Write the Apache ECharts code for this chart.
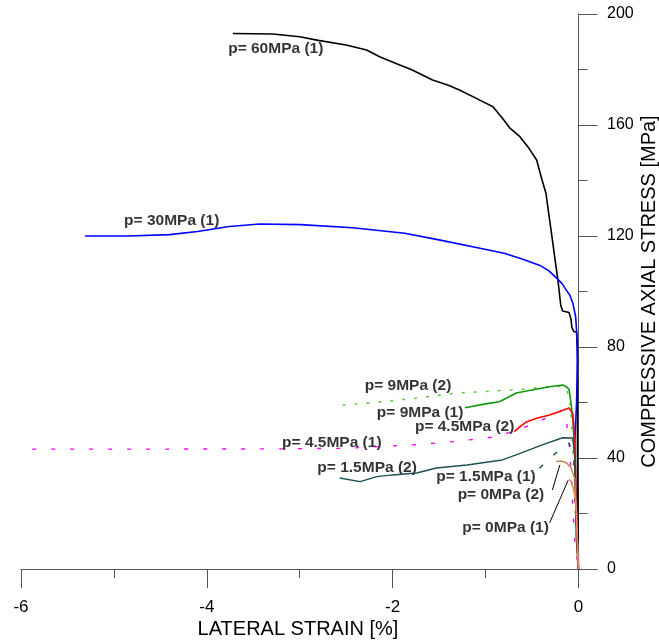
<!DOCTYPE html>
<html>
<head>
<meta charset="utf-8">
<script src="https://cdn.jsdelivr.net/npm/echarts@6/dist/echarts.min.js"></script>
<style>
  html, body { margin: 0; padding: 0; background: #fff; }
  #chart { width: 659px; height: 642px; }
</style>
</head>
<body>
<div id="chart"></div>
<script>
// lateral strain [%], axial stress [MPa]
var p60_1 = [[-3.72,193],[-3.29,192.8],[-3.0,191.8],[-2.8,190.5],[-2.5,188.8],[-2.28,187],[-2.14,184.6],[-1.95,182],[-1.8,180],[-1.57,176.2],[-1.4,174.3],[-1.28,172.6],[-1.04,168.6],[-0.92,166.6],[-0.82,162.5],[-0.74,159],[-0.63,155.8],[-0.53,151.5],[-0.45,147.4],[-0.39,140],[-0.35,135.5],[-0.31,125.8],[-0.28,118.6],[-0.25,111],[-0.22,104],[-0.19,95],[-0.17,93],[-0.1,92.4],[-0.08,90],[-0.07,87],[-0.05,85.6],[-0.02,85.4],[-0.01,80],[-0.01,40],[0,0]];
var p30_1 = [[-5.31,120],[-4.84,120],[-4.4,120.5],[-4.1,121.6],[-3.76,123.4],[-3.43,124.3],[-2.99,124.1],[-2.43,123],[-1.87,121],[-1.5,118.6],[-1.02,115.3],[-0.8,113.8],[-0.63,112],[-0.42,109.5],[-0.32,107.5],[-0.24,105],[-0.18,103],[-0.13,100.5],[-0.09,98.5],[-0.06,95.8],[-0.03,91],[-0.02,86],[-0.01,75],[-0.02,60],[-0.04,45],[-0.03,30],[-0.01,10],[0,0]];
var p9_2 = [[-2.54,59],[-2.1,60.3],[-1.74,61.6],[-1.31,63.4],[-1.03,63.9],[-0.6,64.8],[-0.24,66],[-0.13,65.2],[-0.09,60],[-0.07,50],[-0.05,35],[-0.03,15],[0,0]];
var p9_1 = [[-1.22,58.1],[-1.0,59.5],[-0.85,60.3],[-0.67,63.4],[-0.5,64.5],[-0.31,65.7],[-0.17,66.3],[-0.12,65.5],[-0.1,64.5],[-0.08,60],[-0.06,53.7],[-0.04,41.8],[-0.03,25],[-0.02,10],[0,0]];
var p45_1 = [[-5.88,43.2],[-4.5,43.2],[-3.2,43.3],[-2.5,43.5],[-1.74,44.8],[-1.31,46],[-0.88,47.7],[-0.56,51.3],[-0.31,54.9],[-0.17,57.3],[-0.13,53.7],[-0.1,45],[-0.08,35],[-0.06,22],[-0.04,10],[0,0]];
var p45_2 = [[-0.69,49.5],[-0.62,51.5],[-0.56,53],[-0.45,54.3],[-0.31,55.5],[-0.2,56.8],[-0.1,58],[-0.06,56],[-0.04,48],[-0.03,35],[-0.02,20],[-0.01,8],[0,0]];
var p15_2 = [[-2.57,32.8],[-2.35,31.5],[-2.17,33.3],[-2.0,33.9],[-1.74,34.6],[-1.53,36.4],[-1.2,37.5],[-0.82,39.3],[-0.67,41.1],[-0.39,44.7],[-0.17,47.3],[-0.06,47.2],[-0.04,40],[-0.03,25],[-0.02,10],[0,0]];
var p15_1 = [[-0.42,36.3],[-0.24,41.9],[-0.1,45.4],[-0.05,40],[-0.03,20],[0,0]];
var p0_2 = [[-0.24,38.7],[-0.18,38.9],[-0.13,38.3],[-0.08,36.5],[-0.06,34.6],[-0.04,32.8],[-0.02,20],[-0.01,8],[0,0]];
var p0_1 = [[-0.1,32.5],[-0.07,31],[-0.03,25],[-0.01,10],[0,0]];

// leader lines for the two 0MPa labels
var lead0_2 = [[-0.28,28.5],[-0.2,37.5]];
var lead0_1 = [[-0.31,16.6],[-0.11,32]];

// curve labels: text, strain at left edge, stress
var curveLabels = [
  ['p= 60MPa (1)', -3.77, 187.4],
  ['p= 30MPa (1)', -4.89, 125.4],
  ['p= 9MPa (2)', -2.30, 65.9],
  ['p= 9MPa (1)', -2.17, 56.2],
  ['p= 4.5MPa (2)', -1.76, 51.2],
  ['p= 4.5MPa (1)', -3.19, 45.4],
  ['p= 1.5MPa (2)', -2.81, 36.4],
  ['p= 1.5MPa (1)', -1.53, 33.2],
  ['p= 0MPa (2)', -1.30, 26.7],
  ['p= 0MPa (1)', -1.25, 14.8]
];

var xRange = [-6, 0.2];
var xMajor = [-6, -4, -2, 0];
var xMinor = [-5, -3, -1];
var yTicks = [0, 200, 40];

var chart = echarts.init(document.getElementById('chart'));

function curve(data, color, width, type) {
  return {
    type: 'line',
    data: data,
    showSymbol: false,
    symbol: 'none',
    silent: true,
    lineStyle: { color: color, width: width, type: type || 'solid' }
  };
}

var axisColor = '#555';
var font = 'Liberation Sans, Arial, sans-serif';

var option = {
  animation: false,
  backgroundColor: '#fff',
  grid: { left: 21, right: 62, top: 14, bottom: 73, outerBoundsMode: 'none', containLabel: false },
  xAxis: [{
    type: 'value',
    min: xRange[0], max: xRange[1],
    name: 'LATERAL STRAIN [%]',
    nameLocation: 'middle',
    nameGap: 50,
    nameMoveOverlap: false,
    nameTextStyle: { fontFamily: font, fontSize: 20, color: '#000', padding: [0, 22, 0, 0] },
    axisLine: { onZero: false, lineStyle: { color: axisColor, width: 1 } },
    axisTick: { show: true, length: 19, customValues: xMajor, lineStyle: { color: axisColor } },
    splitLine: { show: false },
    axisLabel: { margin: 30, fontFamily: font, fontSize: 17, color: '#000', customValues: xMajor }
  }, {
    type: 'value',
    position: 'bottom',
    min: xRange[0], max: xRange[1],
    axisLine: { show: false, onZero: false },
    axisTick: { show: true, length: 9, customValues: xMinor, lineStyle: { color: axisColor } },
    axisLabel: { show: false },
    splitLine: { show: false }
  }],
  yAxis: {
    type: 'value',
    position: 'right',
    min: yTicks[0], max: yTicks[1], interval: yTicks[2],
    name: 'COMPRESSIVE AXIAL STRESS [MPa]',
    nameLocation: 'middle',
    nameRotate: 90,
    nameGap: 42,
    nameMoveOverlap: false,
    nameTextStyle: { fontFamily: font, fontSize: 20, color: '#000' },
    axisLine: { show: true, onZero: true, lineStyle: { color: axisColor, width: 1 } },
    axisTick: { show: true, length: 19, lineStyle: { color: axisColor } },
    minorTick: { show: true, splitNumber: 2, length: 9, lineStyle: { color: axisColor } },
    splitLine: { show: false },
    minorSplitLine: { show: false },
    axisLabel: { margin: 10, fontFamily: font, fontSize: 16, color: '#000' }
  },
  series: [
    curve(p60_1, '#000000', 1.6),
    curve(p30_1, '#0000ff', 1.6),
    curve(p9_2, '#66cc44', 1.6, [3, 9]),
    curve(p9_1, '#129a12', 1.6),
    curve(p45_1, '#ff00ff', 1.4, [4, 15]),
    curve(p45_2, '#ff0000', 1.6),
    curve(p15_2, '#1f4f4f', 1.4),
    curve(p15_1, '#1f4f4f', 1.4, [5, 14]),
    curve(p0_2, '#c8844a', 1.4),
    curve(p0_1, '#ff8060', 1.4),
    curve(lead0_2, '#000000', 1),
    curve(lead0_1, '#000000', 1),
    {
      type: 'scatter',
      silent: true,
      symbolSize: 0,
      data: curveLabels.map(function (l) { return { value: [l[1], l[2]], name: l[0] }; }),
      label: {
        show: true,
        position: [0, 0],
        align: 'left',
        verticalAlign: 'middle',
        formatter: function (p) { return p.name; },
        fontFamily: font,
        fontWeight: 'bold',
        fontSize: 15.5,
        color: '#000'
      }
    }
  ]
};

chart.setOption(option);
</script>
</body>
</html>
